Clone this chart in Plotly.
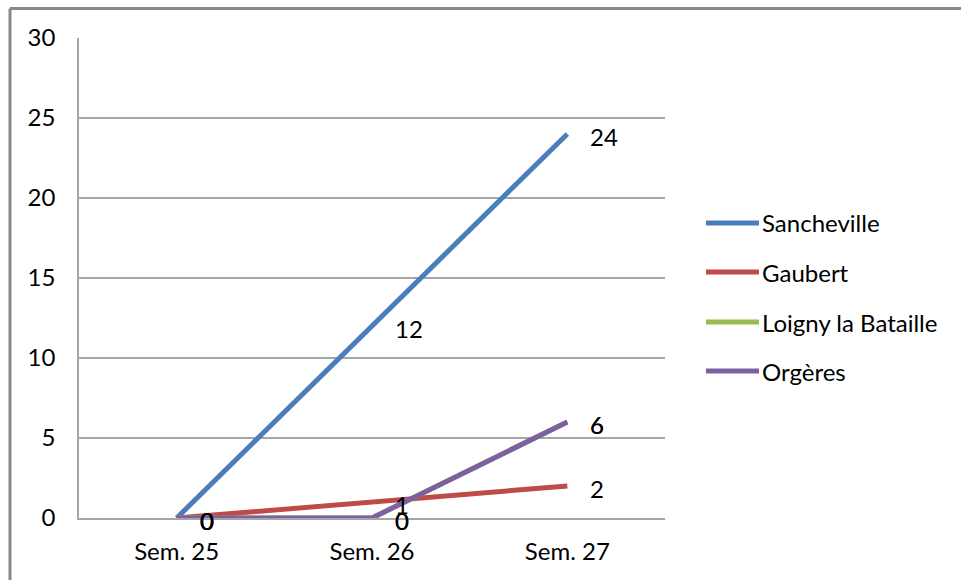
import plotly.graph_objects as go

# Weekly counts per commune
weeks = ["Sem. 25", "Sem. 26", "Sem. 27"]
series_names = ["Sancheville", "Gaubert", "Loigny la Bataille", "Orgères"]
sancheville = [0, 12, 24]
gaubert = [0, 1, 2]
loigny = [0, 0, 6]
orgeres = [0, 0, 6]
y_ticks = [0, 5, 10, 15, 20, 25, 30]

colors = ["#4A7EBB", "#BE4B48", "#98B954", "#7D60A0"]
values = [sancheville, gaubert, loigny, orgeres]

FONT = "Lato"
FS = 24
W, H = 961, 580
M_L, M_R, M_T, M_B = 79, 296, 38, 62
PW, PH = W - M_L - M_R, H - M_T - M_B


def px_x(px):
    return (px - M_L) / PW


def px_y(py):
    return (H - M_B - py) / PH


fig = go.Figure()
for name, vals, col in zip(series_names, values, colors):
    fig.add_trace(go.Scatter(
        x=weeks, y=vals, mode="lines", name=name,
        line=dict(color=col, width=5), showlegend=False,
    ))

annotations = []
# value labels to the right of each point
for vals in values:
    for wk, v in zip(weeks, vals):
        annotations.append(dict(
            x=wk, y=v, xref="x", yref="y", text=str(v), showarrow=False,
            xanchor="left", yanchor="middle", xshift=21, yshift=-2,
            font=dict(family=FONT, size=FS, color="#000000"),
        ))

# legend on the right
shapes = []
leg_y = [223, 272, 322, 371]
for name, col, py in zip(series_names, colors, leg_y):
    shapes.append(dict(
        type="line", xref="paper", yref="paper",
        x0=px_x(706), x1=px_x(759), y0=px_y(py), y1=px_y(py),
        line=dict(color=col, width=5),
    ))
    annotations.append(dict(
        x=px_x(760), y=px_y(py), xref="paper", yref="paper", text=name,
        showarrow=False, xanchor="left", yanchor="middle",
        font=dict(family=FONT, size=FS, color="#000000"),
    ))

# outer chart frame (top and left edges)
frame = dict(color="#888888", width=3)
shapes.append(dict(type="line", xref="paper", yref="paper",
                   x0=px_x(10), x1=px_x(970), y0=px_y(8.5), y1=px_y(8.5), line=frame))
shapes.append(dict(type="line", xref="paper", yref="paper",
                   x0=px_x(10), x1=px_x(10), y0=px_y(8.5), y1=px_y(590), line=frame))

fig.update_layout(
    width=W, height=H,
    margin=dict(l=M_L, r=M_R, t=M_T, b=M_B, pad=0),
    paper_bgcolor="white", plot_bgcolor="white",
    font=dict(family=FONT, size=FS, color="#000000"),
    shapes=shapes, annotations=annotations,
    showlegend=False,
)
fig.update_xaxes(
    type="category", range=[-0.5, 2.5], showgrid=False,
    showline=True, linecolor="#a6a6a6", linewidth=1.5,
    ticks="", ticklabelstandoff=11,
    tickfont=dict(family=FONT, size=FS, color="#000000"),
)
fig.update_yaxes(
    range=[0, 30], tickvals=y_ticks, showgrid=True,
    gridcolor="#a6a6a6", gridwidth=1.5,
    showline=True, linecolor="#a6a6a6", linewidth=1.5,
    zeroline=False, ticks="", ticklabelstandoff=17,
    tickfont=dict(family=FONT, size=FS, color="#000000"),
)

fig.write_html("out.html")
